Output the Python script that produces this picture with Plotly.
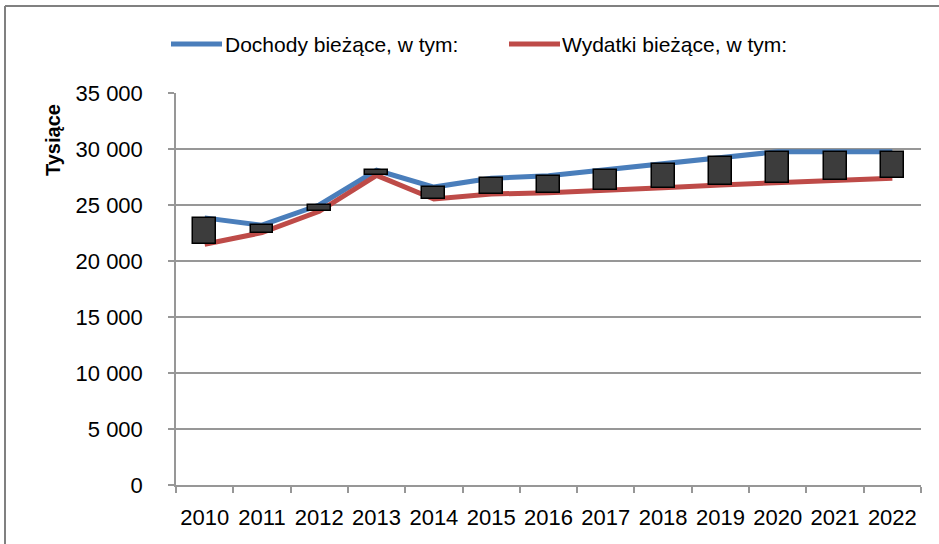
import plotly.graph_objects as go

YEARS = ["2010", "2011", "2012", "2013", "2014", "2015", "2016",
         "2017", "2018", "2019", "2020", "2021", "2022"]
DOCHODY = [23850, 23200, 25000, 28100, 26600, 27380, 27620,
           28150, 28690, 29260, 29760, 29760, 29760]
WYDATKI = [21500, 22530, 24440, 27650, 25540, 25980, 26100,
           26370, 26550, 26790, 26960, 27200, 27380]
NAME_D = "Dochody bieżące, w tym:"
NAME_W = "Wydatki bieżące, w tym:"
Y_TICKS = [0, 5000, 10000, 15000, 20000, 25000, 30000, 35000]
Y_TICK_LABELS = ["0", "5 000", "10 000", "15 000", "20 000", "25 000", "30 000", "35 000"]
Y_TITLE = "Tysiące"

BLUE = "#4A7EBB"
RED = "#BE4B48"
GRID = "#979797"
FONT = "Liberation Sans"

W, H = 939, 544
L, R, T, B = 176, 18, 93, 59
PW, PH = W - L - R, H - T - B


def px(x):
    return (x - L) / PW


def py(y):
    return (H - B - y) / PH


fig = go.Figure()
fig.add_trace(go.Scatter(x=YEARS, y=DOCHODY, mode="lines", name=NAME_D,
                         line=dict(color=BLUE, width=5), showlegend=False,
                         xaxis="x", yaxis="y"))
fig.add_trace(go.Scatter(x=YEARS, y=WYDATKI, mode="lines", name=NAME_W,
                         line=dict(color=RED, width=5), showlegend=False,
                         xaxis="x", yaxis="y"))
fig.add_trace(go.Bar(x=YEARS, y=[d - w for d, w in zip(DOCHODY, WYDATKI)],
                     base=WYDATKI, width=0.4, showlegend=False,
                     marker=dict(color="#3C3C3C", line=dict(color="#000000", width=1.5)),
                     xaxis="x", yaxis="y2", hoverinfo="skip"))

axis_font = dict(family=FONT, size=22, color="#000000")

fig.update_layout(
    width=W, height=H,
    margin=dict(l=L, r=R, t=T, b=B, pad=0, autoexpand=False),
    paper_bgcolor="white", plot_bgcolor="white",
    font=dict(family=FONT, size=22, color="#000000"),
    showlegend=False,
    bargap=0,
    xaxis=dict(type="category", range=[-0.5, 12.5], showgrid=False,
               showline=True, linecolor=GRID, linewidth=1.5,
               ticks="outside", tickson="boundaries", ticklen=6,
               tickcolor=GRID, tickwidth=1.5, tickfont=axis_font,
               tickangle=0, automargin=False, ticklabelstandoff=12),
    yaxis=dict(range=[0, 35000], tickvals=Y_TICKS, ticktext=Y_TICK_LABELS,
               showgrid=True, gridcolor=GRID, gridwidth=1.5, zeroline=False,
               showline=True, linecolor=GRID, linewidth=1.5,
               ticks="outside", ticklen=6, tickcolor=GRID, tickwidth=1.5,
               tickfont=axis_font, ticklabelstandoff=21, automargin=False),
    yaxis2=dict(range=[0, 35000], overlaying="y", visible=False),
)

# outer chart frame (left and top edges visible)
fig.add_shape(type="line", xref="paper", yref="paper",
              x0=px(5), x1=px(5), y0=py(6), y1=py(H + 20),
              line=dict(color="#808080", width=2))
fig.add_shape(type="line", xref="paper", yref="paper",
              x0=px(5), x1=px(W + 20), y0=py(6), y1=py(6),
              line=dict(color="#808080", width=2))

# custom legend
fig.add_shape(type="line", xref="paper", yref="paper",
              x0=px(171), x1=px(222), y0=py(44), y1=py(44),
              line=dict(color=BLUE, width=5))
fig.add_shape(type="line", xref="paper", yref="paper",
              x0=px(509), x1=px(560), y0=py(44), y1=py(44),
              line=dict(color=RED, width=5))
fig.add_annotation(xref="paper", yref="paper", x=px(223), y=py(44),
                   text=NAME_D, showarrow=False, xanchor="left", yanchor="middle",
                   font=dict(family=FONT, size=21, color="#000000"))
fig.add_annotation(xref="paper", yref="paper", x=px(560), y=py(44),
                   text=NAME_W, showarrow=False, xanchor="left", yanchor="middle",
                   font=dict(family=FONT, size=21, color="#000000"))

# y-axis title
fig.add_annotation(xref="paper", yref="paper", x=px(53), y=py(140),
                   text="<b>" + Y_TITLE + "</b>", showarrow=False, textangle=-90,
                   xanchor="center", yanchor="middle",
                   font=dict(family=FONT, size=20, color="#000000"))

fig.write_html("out.html", config={"displayModeBar": False},
               post_script="document.body.style.margin='0';document.body.style.overflow='hidden';")
